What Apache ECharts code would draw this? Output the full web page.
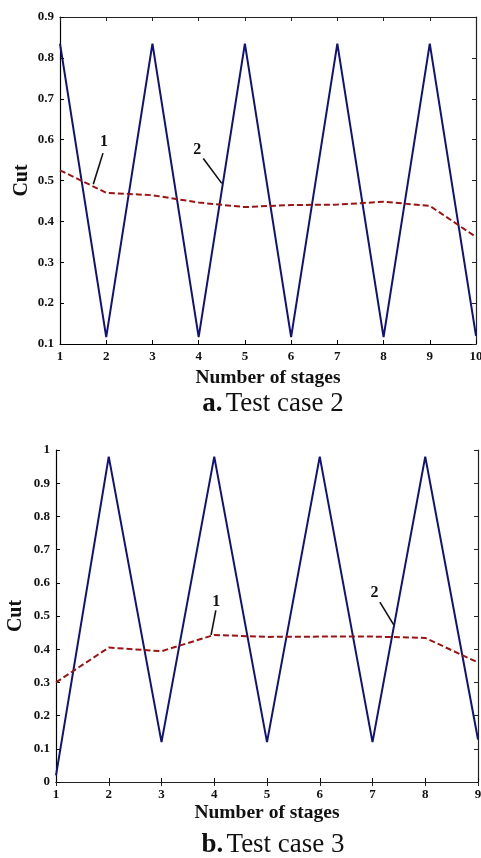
<!DOCTYPE html>
<html>
<head>
<meta charset="utf-8">
<script src="https://cdn.jsdelivr.net/npm/echarts@6/dist/echarts.min.js"></script>
<style>
  html, body { margin: 0; padding: 0; background: #fff; }
  #chart { width: 481px; height: 858px; }
</style>
</head>
<body>
<div id="chart"></div>
<script>
// test case 2
const stagesA = [1, 2, 3, 4, 5, 6, 7, 8, 9, 10]
const cutA1 = [0.525, 0.47, 0.464, 0.446, 0.435, 0.44, 0.441, 0.448, 0.438, 0.362]
const cutA2 = [0.835, 0.117, 0.835, 0.117, 0.835, 0.117, 0.835, 0.117, 0.835, 0.12]

// test case 3
const stagesB = [1, 2, 3, 4, 5, 6, 7, 8, 9]
const cutB1 = [0.3, 0.405, 0.394, 0.443, 0.437, 0.438, 0.438, 0.434, 0.36]
const cutB2 = [0.02, 0.98, 0.12, 0.98, 0.12, 0.98, 0.12, 0.98, 0.128]

const yTicksA = [0.1, 0.9]
const yTicksB = [0, 1]

// leader labels: [text, label x, label y, line start x, y, line end x, y] in data units
const notesA = [
  ['1', 1.95, 0.595, 1.93, 0.567, 1.72, 0.491],
  ['2', 3.97, 0.575, 4.1, 0.554, 4.5, 0.493]
]
const notesB = [
  ['1', 4.04, 0.543, 4.03, 0.517, 3.94, 0.443],
  ['2', 7.04, 0.57, 7.14, 0.542, 7.4, 0.474]
]

const serif = '"Liberation Serif", "DejaVu Serif", serif'
const navy = '#10127a'
const darkRed = '#9e1212'

function pairs(xs, ys) {
  return xs.map((x, i) => [x, ys[i]])
}

function bottomAxis(grid, max, gap) {
  return {
    type: 'value', gridIndex: grid, min: 1, max: max, interval: 1,
    name: 'Number of stages', nameLocation: 'middle', nameGap: gap, nameMoveOverlap: false,
    nameTextStyle: { fontFamily: serif, fontWeight: 'bold', fontSize: 19.5, color: '#111' },
    axisLine: { lineStyle: { color: '#000', width: 1.2 } },
    axisTick: { inside: true, length: 4, lineStyle: { color: '#000' } },
    axisLabel: { fontFamily: serif, fontWeight: 'bold', fontSize: 13, color: '#111', margin: 6 },
    splitLine: { show: false }
  }
}

function topAxis(grid, max) {
  return {
    type: 'value', gridIndex: grid, min: 1, max: max, interval: 1, position: 'top',
    axisLine: { lineStyle: { color: '#222', width: 1.2 } },
    axisTick: { inside: true, length: 4, lineStyle: { color: '#222' } },
    axisLabel: { show: false },
    splitLine: { show: false }
  }
}

function leftAxis(grid, ticks, gap) {
  return {
    type: 'value', gridIndex: grid, min: ticks[0], max: ticks[1], interval: 0.1,
    name: 'Cut', nameLocation: 'middle', nameGap: gap, nameRotate: 90, nameMoveOverlap: false,
    nameTextStyle: { fontFamily: serif, fontWeight: 'bold', fontSize: 20, color: '#111' },
    axisLine: { show: true, lineStyle: { color: '#000', width: 1.2 } },
    axisTick: { show: true, inside: true, length: 4, lineStyle: { color: '#000' } },
    axisLabel: { fontFamily: serif, fontWeight: 'bold', fontSize: 13, color: '#111', margin: 6 },
    splitLine: { show: false }
  }
}

function rightAxis(grid, ticks) {
  return {
    type: 'value', gridIndex: grid, min: ticks[0], max: ticks[1], interval: 0.1, position: 'right',
    axisLine: { show: true, lineStyle: { color: '#222', width: 1.2 } },
    axisTick: { show: true, inside: true, length: 4, lineStyle: { color: '#222' } },
    axisLabel: { show: false },
    splitLine: { show: false }
  }
}

function lineSeries(axis, data, color, dashed) {
  return {
    type: 'line', xAxisIndex: axis, yAxisIndex: axis, data: data,
    symbol: 'none', silent: true, z: dashed ? 3 : 2,
    lineStyle: { color: color, width: 2, type: dashed ? [6, 3] : 'solid' }
  }
}

const chart = echarts.init(document.getElementById('chart'))

chart.setOption({
  animation: false,
  backgroundColor: '#fff',
  grid: [
    { left: 60, top: 17, width: 416, height: 327, outerBoundsMode: 'none' },
    { left: 56, top: 450, width: 422, height: 332, outerBoundsMode: 'none' }
  ],
  xAxis: [bottomAxis(0, 10, 24), bottomAxis(1, 9, 21), topAxis(0, 10), topAxis(1, 9)],
  yAxis: [leftAxis(0, yTicksA, 28), leftAxis(1, yTicksB, 30), rightAxis(0, yTicksA), rightAxis(1, yTicksB)],
  series: [
    lineSeries(0, pairs(stagesA, cutA2), navy, false),
    lineSeries(0, pairs(stagesA, cutA1), darkRed, true),
    lineSeries(1, pairs(stagesB, cutB2), navy, false),
    lineSeries(1, pairs(stagesB, cutB1), darkRed, true)
  ]
})

function noteGraphics(notes, axis) {
  const finder = { xAxisIndex: axis, yAxisIndex: axis }
  const out = []
  notes.forEach((n) => {
    const t = chart.convertToPixel(finder, [n[1], n[2]])
    const a = chart.convertToPixel(finder, [n[3], n[4]])
    const b = chart.convertToPixel(finder, [n[5], n[6]])
    out.push({
      type: 'text', x: t[0], y: t[1], z: 10,
      style: { text: n[0], font: 'bold 16px ' + serif, fill: '#111', align: 'center', verticalAlign: 'middle' }
    })
    out.push({
      type: 'line', z: 10,
      shape: { x1: a[0], y1: a[1], x2: b[0], y2: b[1] },
      style: { stroke: '#111', lineWidth: 1.6 }
    })
  })
  return out
}

function caption(letter, text, y) {
  return {
    type: 'text', x: 273, y: y, z: 10,
    style: {
      text: '{b|' + letter + '} {n|' + text + '}',
      align: 'center', verticalAlign: 'middle',
      rich: {
        b: { font: 'bold 27px ' + serif, fill: '#111' },
        n: { font: '27px ' + serif, fill: '#111' }
      }
    }
  }
}

chart.setOption({
  graphic: [
    ...noteGraphics(notesA, 0),
    ...noteGraphics(notesB, 1),
    caption('a.', 'Test case 2', 404),
    caption('b.', 'Test case 3', 845)
  ]
})
</script>
</body>
</html>
